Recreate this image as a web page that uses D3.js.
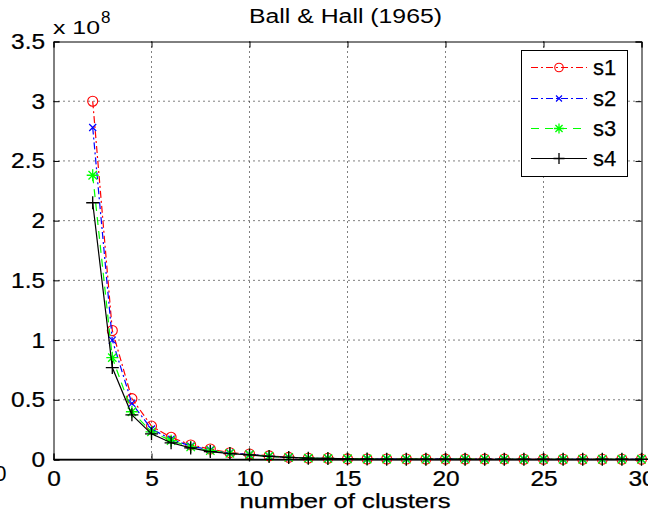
<!DOCTYPE html>
<html><head><meta charset="utf-8">
<script src="https://cdn.jsdelivr.net/npm/d3@7"></script>
<style>
html,body{margin:0;padding:0;background:#fff;}
svg{display:block;font-family:"Liberation Sans",Arial,sans-serif;}
</style></head>
<body>
<svg id="chart" width="648" height="514"></svg>
<script>
// Data (values in units of 1e8)
const clusters = d3.range(2, 31);
const s1 = [3.00,1.08,0.51,0.28,0.186,0.122,0.088,0.057,0.046,0.030,0.018,0.011,0.010,0.005,0.004,0.004,0.004,0.003,0.003,0.003,0.003,0.003,0.002,0.002,0.002,0.002,0.002,0.002,0.002];
const s2 = [2.78,1.00,0.47,0.255,0.17,0.112,0.080,0.055,0.042,0.028,0.017,0.011,0.009,0.005,0.004,0.004,0.003,0.003,0.003,0.003,0.003,0.002,0.002,0.002,0.002,0.002,0.002,0.002,0.002];
const s3 = [2.38,0.853,0.40,0.232,0.158,0.105,0.074,0.052,0.040,0.027,0.018,0.011,0.009,0.006,0.004,0.004,0.003,0.003,0.003,0.003,0.002,0.002,0.002,0.002,0.002,0.002,0.002,0.002,0.002];
const s4 = [2.15,0.77,0.374,0.215,0.14,0.097,0.066,0.050,0.038,0.026,0.017,0.011,0.009,0.005,0.004,0.003,0.003,0.003,0.003,0.002,0.002,0.002,0.002,0.002,0.002,0.002,0.002,0.002,0.002];
const seriesNames = ["s1","s2","s3","s4"];
const xTicks = [0,5,10,15,20,25,30];
const yTicks = [0,0.5,1,1.5,2,2.5,3,3.5];
const yTickLabels = ["0","0.5","1","1.5","2","2.5","3","3.5"];
const titleText = "Ball & Hall (1965)";
const xLabelText = "number of clusters";

const styles = {
  s1:{color:"#ff0000", dash:"7,3,2,3", marker:"circle"},
  s2:{color:"#0000ff", dash:"7,3,2,3", marker:"x"},
  s3:{color:"#00ff00", dash:"8,6", marker:"star"},
  s4:{color:"#000000", dash:null, marker:"plus"}
};
const data = {s1, s2, s3, s4};

const svg = d3.select("#chart");
const L = 53.5, R = 641.5, T = 41.5, B = 459.5;
const x = d3.scaleLinear().domain([0,30]).range([L,R]);
const y = d3.scaleLinear().domain([0,3.5]).range([B,T]);

// grid
const grid = svg.append("g");
grid.selectAll("line.gx").data(xTicks.filter(t=>t>0&&t<30)).join("line")
  .attr("x1",d=>x(d)).attr("x2",d=>x(d)).attr("y1",T).attr("y2",B)
  .attr("stroke","#000").attr("stroke-width",1).attr("stroke-dasharray","1,4");
grid.selectAll("line.gy").data(yTicks.filter(t=>t>0&&t<3.5)).join("line")
  .attr("x1",L).attr("x2",R).attr("y1",d=>y(d)).attr("y2",d=>y(d))
  .attr("stroke","#000").attr("stroke-width",1).attr("stroke-dasharray","1,4");

// axes (MATLAB-style box with inward ticks)
const fs = 22, sx = 1.11;
const xAxisB = d3.axisBottom(x).tickValues(xTicks).tickSize(-6).tickPadding(11).tickFormat(d3.format("d"));
const gxb = svg.append("g").attr("transform",`translate(0,${B})`).call(xAxisB);
const xAxisT = d3.axisTop(x).tickValues(xTicks).tickSize(-6).tickFormat("");
const gxt = svg.append("g").attr("transform",`translate(0,${T})`).call(xAxisT);
const yAxisL = d3.axisLeft(y).tickValues(yTicks).tickSize(-6).tickPadding(8.5/sx).tickFormat((d,i)=>yTickLabels[i]);
const gyl = svg.append("g").attr("transform",`translate(${L},0)`).call(yAxisL);
const yAxisR = d3.axisRight(y).tickValues(yTicks).tickSize(-6).tickFormat("");
const gyr = svg.append("g").attr("transform",`translate(${R},0)`).call(yAxisR);
[gxb,gxt,gyl,gyr].forEach(g=>{
  g.selectAll("path.domain").attr("stroke","#000").attr("stroke-width",1);
  g.selectAll("line").attr("stroke","#000");
  g.selectAll("text").attr("fill","#000").attr("font-size",fs)
    .attr("font-family","Liberation Sans, Arial, sans-serif")
    .attr("stroke","#000").attr("stroke-width",0.25)
    .attr("transform",`scale(${sx},1)`);
});

// lines
const line = d3.line().x((d,i)=>x(clusters[i])).y(d=>y(d));
function drawMarker(g, type, cx, cy, color, s){
  s = s || 1;
  if(type==="circle"){
    g.append("circle").attr("cx",cx).attr("cy",cy).attr("r",5*s).attr("fill","none").attr("stroke",color).attr("stroke-width",1.1);
  } else if(type==="x"){
    const r=3.5*s;
    g.append("path").attr("d",`M${cx-r},${cy-r}L${cx+r},${cy+r}M${cx-r},${cy+r}L${cx+r},${cy-r}`).attr("stroke",color).attr("stroke-width",1.2).attr("fill","none");
  } else if(type==="star"){
    const r=6*s, q=4.2*s;
    g.append("path").attr("d",`M${cx-r},${cy}L${cx+r},${cy}M${cx},${cy-r}L${cx},${cy+r}M${cx-q},${cy-q}L${cx+q},${cy+q}M${cx-q},${cy+q}L${cx+q},${cy-q}`).attr("stroke",color).attr("stroke-width",1.3).attr("fill","none");
  } else if(type==="plus"){
    const r=6.5*s;
    g.append("path").attr("d",`M${cx-r},${cy}L${cx+r},${cy}M${cx},${cy-r}L${cx},${cy+r}`).attr("stroke",color).attr("stroke-width",1.3).attr("fill","none");
  }
}
seriesNames.forEach(name=>{
  const st = styles[name];
  const g = svg.append("g");
  g.append("path").datum(data[name]).attr("d",line).attr("fill","none")
    .attr("stroke",st.color).attr("stroke-width",1.2)
    .attr("stroke-dasharray",st.dash);
  data[name].forEach((v,i)=>drawMarker(g, st.marker, x(clusters[i]), y(v), st.color));
});
// redraw bottom axis line on top
svg.append("line").attr("x1",L).attr("x2",R).attr("y1",B).attr("y2",B).attr("stroke","#000").attr("stroke-width",1.6);

// legend
const lg = svg.append("g");
const lx = 521.5, ly = 50.5, lw = 106, lh = 126;
lg.append("rect").attr("x",lx).attr("y",ly).attr("width",lw).attr("height",lh).attr("fill","#fff").attr("stroke","#000").attr("stroke-width",1);
const legY = [67.5, 98.5, 128.5, 158.5];
seriesNames.forEach((name,i)=>{
  const st = styles[name];
  lg.append("line").attr("x1",531).attr("x2",587).attr("y1",legY[i]).attr("y2",legY[i])
    .attr("stroke",st.color).attr("stroke-width",1.2).attr("stroke-dasharray",st.dash);
  drawMarker(lg, st.marker, 559, legY[i], st.color, 0.85);
  lg.append("text").attr("x",593).attr("y",legY[i]).attr("dy","0.36em").attr("font-size",22)
    .attr("stroke","#000").attr("stroke-width",0.25).attr("fill","#000").text(name);
});

// title
svg.append("text").attr("x",345.5).attr("y",23).attr("text-anchor","middle").attr("font-size",19.5)
  .attr("textLength",193).attr("lengthAdjust","spacingAndGlyphs").attr("fill","#000").text(titleText);
// x label
svg.append("text").attr("x",345).attr("y",508).attr("text-anchor","middle").attr("font-size",19.5)
  .attr("textLength",211).attr("lengthAdjust","spacingAndGlyphs")
  .attr("stroke","#000").attr("stroke-width",0.25).attr("fill","#000").text(xLabelText);
// exponent label
svg.append("text").attr("x",53).attr("y",33.5).attr("font-size",19)
  .attr("textLength",47).attr("lengthAdjust","spacingAndGlyphs").attr("fill","#000").text("x 10");
svg.append("text").attr("x",101).attr("y",23).attr("font-size",17).attr("fill","#000").text("8");
// stray label from neighbouring panel
svg.append("text").attr("x",6.5).attr("y",481).attr("text-anchor","end").attr("font-size",22).attr("fill","#000").text("0");
</script>
</body></html>
